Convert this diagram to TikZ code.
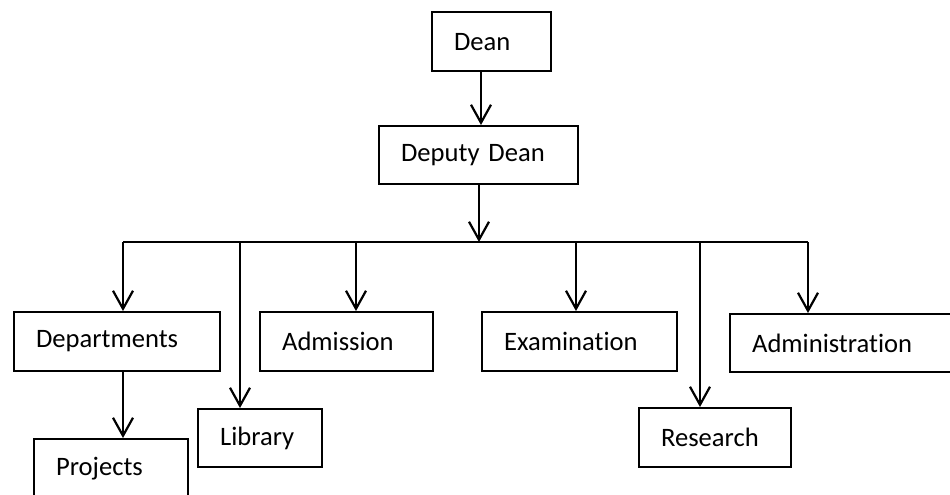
\documentclass[tikz,border=0pt]{standalone}
\usepackage{fontspec}
\setmainfont{Carlito}[Ligatures=NoCommon]
\usetikzlibrary{arrows.meta}

\begin{document}
\begin{tikzpicture}[x=0.5pt,y=-0.5pt,
		box_style/.style={rectangle,draw=black,line width=1.1pt,anchor=north west,align=left,
			inner xsep=11pt,inner ysep=0pt,text width=#1,font=\fontsize{13.3}{15}\selectfont},
		edge_style/.style={draw=black,line width=1.1pt,-{Straight Barb[length=9pt,width=10pt]}},
		bus_style/.style={draw=black,line width=1.1pt}]

		\useasboundingbox (0,0) rectangle (950,494);

		\node[box_style=37.5pt,minimum height=29.5pt] (dean) at (431,11) {Dean};
		\node[box_style=77.5pt,minimum height=29pt] (deputy) at (378,125) {Deputy Dean};
		\node[box_style=81pt,minimum height=29.5pt] (dept) at (13,311) {Departments};
		\node[box_style=55pt,minimum height=30pt] (proj) at (33,438) {Projects};
		\node[box_style=40pt,minimum height=29pt] (lib) at (197,408) {Library};
		\node[box_style=64.5pt,minimum height=29.5pt] (adm) at (259,311) {Admission};
		\node[box_style=75.5pt,minimum height=29.5pt] (exam) at (481,311) {Examination};
		\node[box_style=54pt,minimum height=29.5pt] (res) at (638,407) {Research};
		\node[box_style=93pt,minimum height=29pt] (admin) at (729,313) {Administration};

		\coordinate (bus) at (479,242);
		\coordinate (b_dept) at (123,242);
		\coordinate (b_lib) at (240,242);
		\coordinate (b_adm) at (356,242);
		\coordinate (b_exam) at (576,242);
		\coordinate (b_res) at (700,242);
		\coordinate (b_admin) at (808,242);

		\draw[edge_style] (dean.south -| 481,0) -- (deputy.north -| 481,0);
		\draw[edge_style] (deputy.south -| bus) -- (bus);
		\draw[bus_style] (b_dept) -- (b_admin);

		\draw[edge_style] (b_dept) -- (b_dept |- dept.north);
		\draw[edge_style] (b_lib) -- (b_lib |- lib.north);
		\draw[edge_style] (b_adm) -- (b_adm |- adm.north);
		\draw[edge_style] (b_exam) -- (b_exam |- exam.north);
		\draw[edge_style] (b_res) -- (b_res |- res.north);
		\draw[edge_style] (b_admin) -- (b_admin |- admin.north);
		\draw[edge_style] (dept.south -| b_dept) -- (proj.north -| b_dept);

\end{tikzpicture}
\end{document}
